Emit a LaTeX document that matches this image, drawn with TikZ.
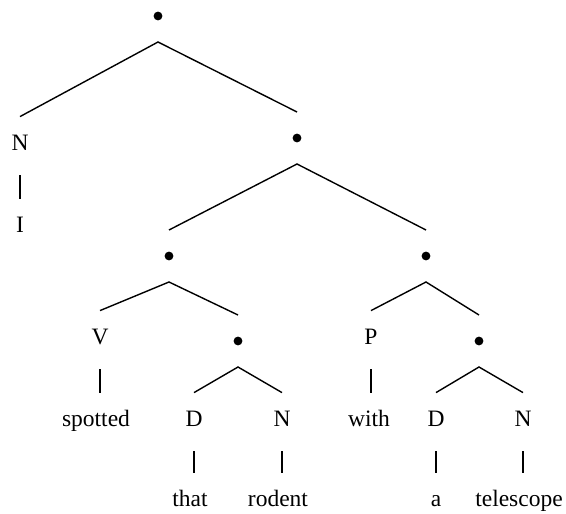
\documentclass[tikz,border=0pt]{standalone}
\usepackage{fontspec}
\setmainfont{Liberation Serif}

\begin{document}
\begin{tikzpicture}[x=0.5pt, y=-0.5pt,
	word/.style={inner sep=0, minimum height=29pt, text height=0.7em, text depth=0.25em,
		font=\fontsize{11.75}{14}\selectfont},
	branch/.style={circle, fill, inner sep=0, minimum size=4.4pt, outer sep=10.8pt},
	edge/.style={line width=0.7pt}]
\useasboundingbox (0,0) rectangle (566,513);

\node[branch] (s) at (158,16) {};
\node[word] (n1) at (20,146) {N};
\node[word] (i) at (20,228) {I};
\node[branch] (vp) at (297,138) {};

\node[branch] (vbar) at (169,256) {};
\node[branch] (pp) at (426,256) {};

\node[word] (v) at (100,340) {V};
\node[branch] (dp1) at (238,341) {};
\node[word] (p) at (371,340) {P};
\node[branch] (dp2) at (479,341) {};

\node[word] (spotted) at (96,422) {spotted};
\node[word] (d1) at (194,422) {D};
\node[word] (n2) at (282,422) {N};
\node[word] (with) at (369,422) {with};
\node[word] (d2) at (436,422) {D};
\node[word] (n3) at (523,422) {N};

\node[word] (that) at (190,502) {that};
\node[word] (rodent) at (278,502) {rodent};
\node[word] (a) at (436,502) {a};
\node[word] (telescope) at (519,502) {telescope};

\draw[edge] (n1.north) -- (s.south) -- (vp.north);
\draw[edge] (vbar.north) -- (vp.south) -- (pp.north);
\draw[edge] (v.north) -- (vbar.south) -- (dp1.north);
\draw[edge] (p.north) -- (pp.south) -- (dp2.north);
\draw[edge] (d1.north) -- (dp1.south) -- (n2.north);
\draw[edge] (d2.north) -- (dp2.south) -- (n3.north);

\draw[edge] (n1.south) -- (n1 |- i.north);
\draw[edge] (v.south) -- (v |- spotted.north);
\draw[edge] (p.south) -- (p |- with.north);
\draw[edge] (d1.south) -- (d1 |- that.north);
\draw[edge] (n2.south) -- (n2 |- rodent.north);
\draw[edge] (d2.south) -- (d2 |- a.north);
\draw[edge] (n3.south) -- (n3 |- telescope.north);

\end{tikzpicture}
\end{document}
